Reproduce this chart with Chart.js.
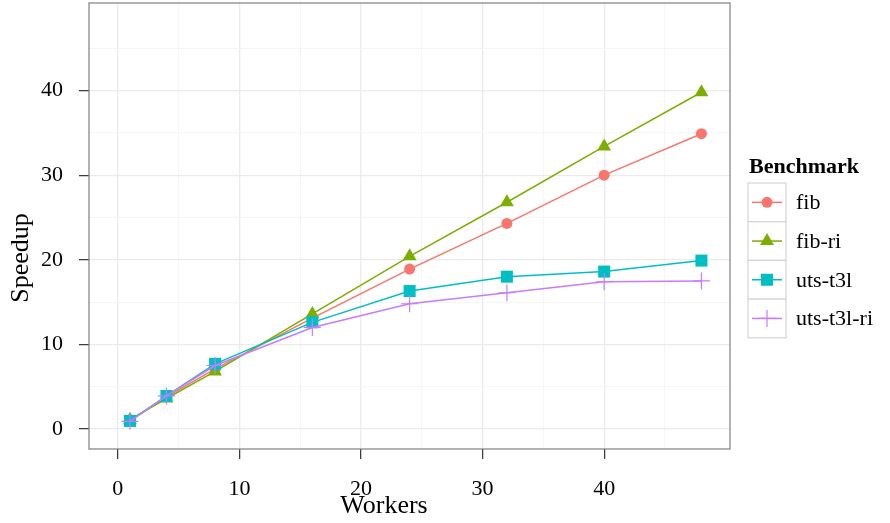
<!DOCTYPE html>
<html>
<head>
<meta charset="utf-8">
<script src="https://cdn.jsdelivr.net/npm/chart.js@4.4.0/dist/chart.umd.min.js"></script>
<style>
  html, body { margin: 0; padding: 0; background: #fff; }
  #wrap { width: 890px; height: 523px; }
</style>
</head>
<body>
<div id="wrap"><canvas id="speedupChart" width="890" height="523"></canvas></div>
<script>
// Workers on the x axis
const workers = [1, 4, 8, 16, 24, 32, 40, 48];

// Speedup per benchmark
const fib = [1.0, 3.8, 7.1, 13.1, 18.9, 24.3, 30.0, 34.9];
const fibRi = [1.1, 3.6, 6.8, 13.6, 20.4, 26.8, 33.4, 39.8];
const utsT3l = [0.95, 3.9, 7.7, 12.6, 16.3, 18.0, 18.6, 19.9];
const utsT3lRi = [0.9, 3.9, 7.5, 12.0, 14.8, 16.1, 17.4, 17.5];

const seriesNames = ['fib', 'fib-ri', 'uts-t3l', 'uts-t3l-ri'];
const seriesColors = ['#F8766D', '#7CAE00', '#00BFC4', '#C77CFF'];

// Axis ticks (labels every 10, minor grid every 5)
const xTickLabels = [0, 10, 20, 30, 40];
const yTickLabels = [0, 10, 20, 30, 40];
const minorTicks = [5, 15, 25, 35, 45];

const serif = '"Liberation Serif", "DejaVu Serif", serif';

function toPoints(values) {
    return workers.map((w, i) => ({ x: w, y: values[i] }));
}

function setTicks(scale) {
    const all = xTickLabels.concat(minorTicks).sort((a, b) => a - b);
    scale.ticks = all.map(v => ({ value: v }));
}

const isMajor = v => v % 10 === 0;

const markerStyles = [
    { pointStyle: 'circle', pointRadius: 5.5 },
    { pointStyle: 'triangle', pointRadius: 8 },
    { pointStyle: 'rect', pointRadius: 8.5 },
    { pointStyle: 'cross', pointRadius: 8.5 }
];

const datasets = [fib, fibRi, utsT3l, utsT3lRi].map((values, i) => ({
    label: seriesNames[i],
    data: toPoints(values),
    borderColor: seriesColors[i],
    backgroundColor: seriesColors[i],
    pointBackgroundColor: seriesColors[i],
    pointBorderColor: seriesColors[i],
    pointBorderWidth: i === 3 ? 1.2 : 0,
    pointStyle: markerStyles[i].pointStyle,
    pointRadius: markerStyles[i].pointRadius,
    borderWidth: 1.5,
    tension: 0,
    order: 3 - i
}));

// frame, axis titles and the ggplot-like legend
const decorations = {
    id: 'decorations',
    afterDraw(chart) {
        const ctx = chart.ctx;
        const a = chart.chartArea;
        ctx.save();
        ctx.strokeStyle = '#7f7f7f';
        ctx.lineWidth = 1.2;
        ctx.strokeRect(a.left, a.top, a.right - a.left, a.bottom - a.top);

        ctx.fillStyle = '#000';
        ctx.font = '26px ' + serif;
        ctx.textAlign = 'center';
        ctx.textBaseline = 'middle';
        ctx.fillText('Workers', 384, 506);
        ctx.save();
        ctx.translate(21, 258);
        ctx.rotate(-Math.PI / 2);
        ctx.fillText('Speedup', 0, 0);
        ctx.restore();

        // legend
        const lx = 748, ly = 183, kw = 38, kh = 38.7;
        ctx.textAlign = 'left';
        ctx.font = 'bold 22px ' + serif;
        ctx.fillText('Benchmark', 749, 167);
        ctx.font = '22px ' + serif;
        chart.data.datasets.forEach((ds, i) => {
            const top = ly + i * kh;
            ctx.fillStyle = '#fff';
            ctx.fillRect(lx, top, kw, kh);
            ctx.strokeStyle = '#d4d4d4';
            ctx.lineWidth = 1.2;
            ctx.strokeRect(lx, top, kw, kh);
            const cy = top + kh / 2;
            ctx.strokeStyle = ds.borderColor;
            ctx.lineWidth = 1.5;
            ctx.beginPath();
            ctx.moveTo(lx + 4, cy);
            ctx.lineTo(lx + kw - 4, cy);
            ctx.stroke();
            ctx.fillStyle = ds.backgroundColor;
            ctx.lineWidth = ds.pointBorderWidth || 1;
            Chart.helpers.drawPoint(ctx, {
                pointStyle: ds.pointStyle,
                radius: ds.pointRadius,
                borderWidth: ds.pointBorderWidth
            }, lx + kw / 2, cy);
            ctx.fillStyle = '#000';
            ctx.fillText(ds.label, lx + kw + 10, cy + 1);
        });
        ctx.restore();
    }
};

new Chart(document.getElementById('speedupChart'), {
    type: 'line',
    data: { datasets: datasets },
    plugins: [decorations],
    options: {
        responsive: false,
        animation: false,
        layout: { autoPadding: false, padding: { left: 0, right: 160, top: 3, bottom: 0 } },
        plugins: {
            legend: { display: false },
            tooltip: { enabled: false }
        },
        scales: {
            x: {
                type: 'linear',
                min: -2.37,
                max: 50.35,
                afterFit: scale => {
                    scale.height = 74;
                    scale.paddingLeft = 0;
                    scale.paddingRight = 0;
                },
                afterBuildTicks: setTicks,
                border: { display: false },
                grid: {
                    color: ctx => isMajor(ctx.tick.value) ? '#ebebeb' : '#f5f5f5',
                    lineWidth: ctx => isMajor(ctx.tick.value) ? 1.3 : 1,
                    tickColor: ctx => isMajor(ctx.tick.value) ? '#333' : 'rgba(0,0,0,0)',
                    tickLength: 10,
                    tickWidth: 1.2
                },
                ticks: {
                    autoSkip: false,
                    maxRotation: 0,
                    padding: 17,
                    color: '#000',
                    font: { family: serif, size: 22 },
                    callback: v => xTickLabels.includes(v) ? String(v) : ''
                }
            },
            y: {
                type: 'linear',
                min: -2.37,
                max: 50.35,
                afterFit: scale => {
                    scale.width = 89;
                    scale.paddingTop = 0;
                    scale.paddingBottom = 0;
                },
                afterBuildTicks: setTicks,
                border: { display: false },
                grid: {
                    color: ctx => isMajor(ctx.tick.value) ? '#ebebeb' : '#f5f5f5',
                    lineWidth: ctx => isMajor(ctx.tick.value) ? 1.3 : 1,
                    tickColor: ctx => isMajor(ctx.tick.value) ? '#333' : 'rgba(0,0,0,0)',
                    tickLength: 10,
                    tickWidth: 1.2
                },
                ticks: {
                    autoSkip: false,
                    padding: 16,
                    color: '#000',
                    font: { family: serif, size: 22 },
                    callback: v => yTickLabels.includes(v) ? String(v) : ''
                }
            }
        }
    }
});
</script>
</body>
</html>
